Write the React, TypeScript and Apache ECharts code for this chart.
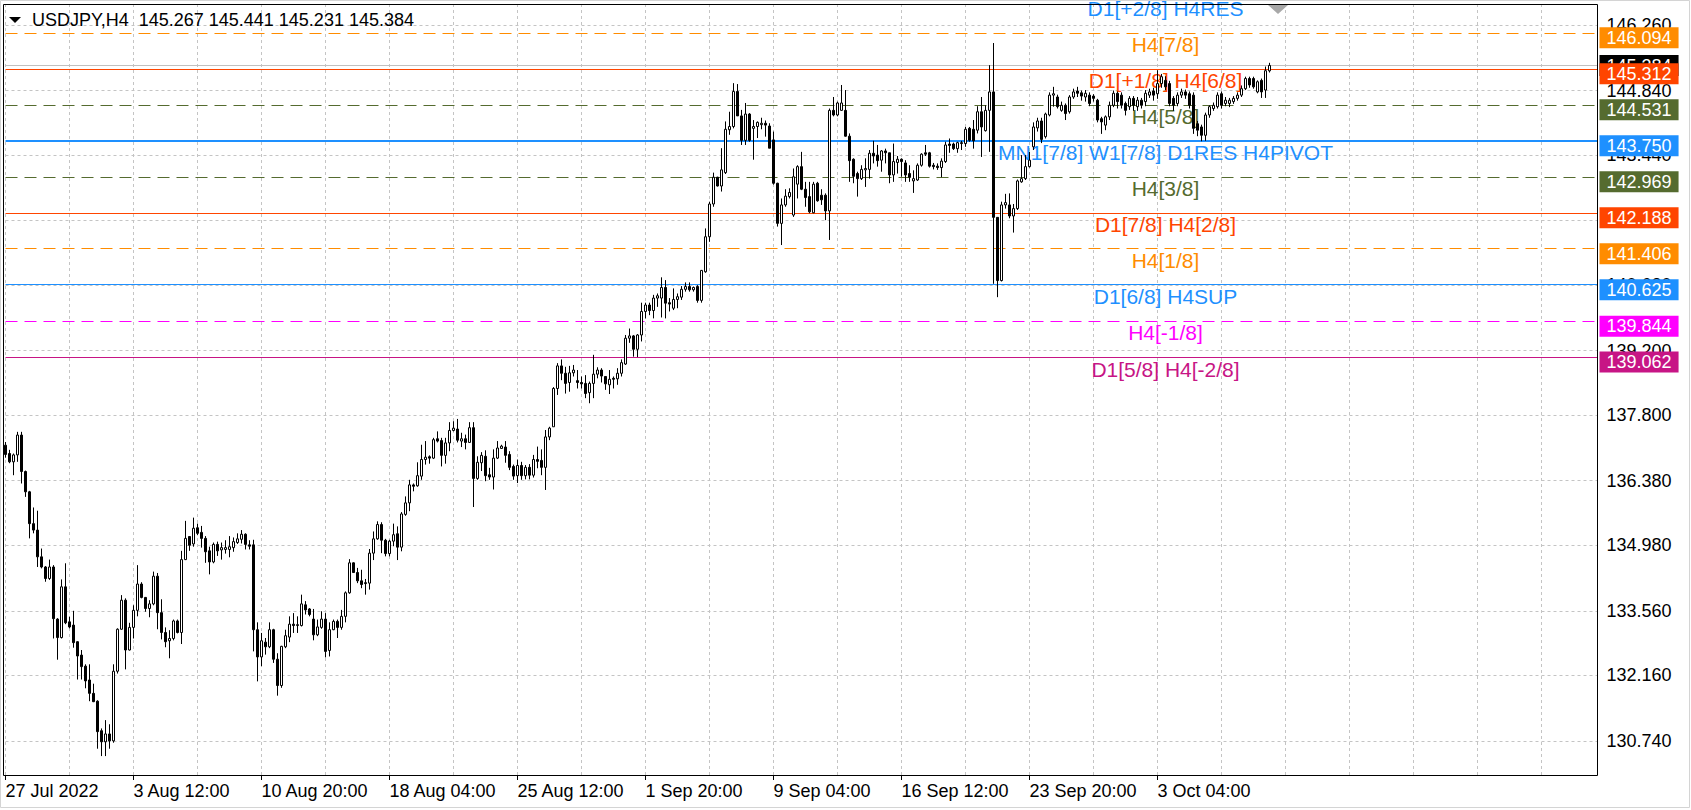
import React, { useEffect, useRef } from "react";
import * as echarts from "echarts";

// ---- data -------------------------------------------------------------
const symbolName = "USDJPY,H4";

// H4 candles: [open, close, low, high]
const candles: number[][] = [
  [137.15, 136.95, 136.88, 137.22], [136.97, 136.79, 136.76, 137.05], [136.79, 136.94, 136.5, 136.97], [136.94, 137.37, 136.79, 137.44],
  [137.37, 136.58, 136.32, 137.44], [136.58, 136.14, 136.03, 136.6], [136.14, 135.45, 135.13, 136.16], [135.45, 135.31, 135.24, 135.8],
  [135.31, 134.73, 134.51, 135.73], [134.73, 134.51, 134.48, 134.91], [134.51, 134.26, 134.19, 134.53], [134.26, 134.51, 134.23, 134.67],
  [134.51, 133.39, 132.96, 134.55], [133.38, 132.98, 132.5, 133.4], [132.98, 134.08, 132.96, 134.24], [134.08, 133.3, 133.27, 134.59],
  [133.32, 133.21, 133.18, 133.43], [133.25, 132.87, 132.76, 133.56], [132.89, 132.58, 132.07, 132.9], [132.6, 132.35, 132.07, 132.71],
  [132.36, 132.04, 131.88, 132.4], [132.06, 131.77, 131.6, 132.4], [131.77, 131.59, 131.58, 131.98], [131.6, 130.94, 130.57, 131.62],
  [130.96, 130.72, 130.41, 131.01], [130.72, 130.89, 130.41, 131.19], [130.89, 130.74, 130.57, 131.1], [130.74, 132.25, 130.7, 132.4],
  [132.25, 133.16, 132.2, 133.18], [133.16, 133.79, 133.15, 133.9], [133.79, 132.71, 132.29, 133.83], [132.71, 133.2, 132.7, 133.3],
  [133.2, 133.57, 132.96, 133.68], [133.57, 134.14, 133.44, 134.55], [134.14, 133.85, 133.83, 134.18], [133.85, 133.61, 133.54, 133.86],
  [133.61, 133.71, 133.42, 133.79], [133.71, 134.31, 133.68, 134.41], [134.31, 133.52, 133.16, 134.38], [133.52, 133.09, 132.94, 133.81],
  [133.09, 132.89, 132.77, 133.2], [132.91, 132.96, 132.53, 133.14], [132.96, 133.34, 132.92, 133.37], [133.34, 133.09, 133.07, 133.37],
  [133.09, 134.67, 132.84, 134.86], [134.67, 135.13, 134.66, 135.51], [135.17, 134.98, 134.86, 135.18], [135.01, 135.35, 134.95, 135.58],
  [135.36, 135.24, 135.2, 135.45], [135.26, 135.13, 134.93, 135.4], [135.13, 134.84, 134.6, 135.18], [134.86, 134.62, 134.35, 134.95],
  [134.62, 135.0, 134.59, 135.04], [135.0, 134.86, 134.75, 135.06], [134.88, 134.93, 134.67, 135.04], [134.89, 134.93, 134.8, 135.09],
  [134.89, 134.95, 134.72, 135.18], [134.93, 135.06, 134.84, 135.15], [135.04, 135.12, 135.01, 135.24], [135.11, 135.22, 135.02, 135.31],
  [135.22, 135.0, 134.89, 135.24], [134.99, 134.96, 134.89, 135.09], [134.99, 133.15, 132.68, 135.1], [133.15, 132.56, 132.03, 133.31],
  [132.56, 132.91, 132.36, 133.08], [132.88, 132.78, 132.61, 132.97], [132.78, 133.15, 132.75, 133.31], [133.15, 132.51, 132.43, 133.17],
  [132.51, 131.94, 131.72, 132.64], [131.94, 132.79, 131.89, 132.8], [132.78, 133.02, 132.75, 133.15], [132.99, 133.27, 132.88, 133.44],
  [133.27, 133.24, 133.08, 133.51], [133.24, 133.26, 133.08, 133.44], [133.24, 133.71, 133.22, 133.91], [133.69, 133.58, 133.48, 133.77],
  [133.6, 133.48, 133.44, 133.62], [133.38, 133.04, 132.92, 133.6], [133.04, 133.21, 133.01, 133.37], [133.2, 133.38, 133.17, 133.55],
  [133.38, 132.68, 132.55, 133.51], [132.7, 133.15, 132.57, 133.31], [133.15, 133.33, 133.14, 133.37], [133.33, 133.2, 132.97, 133.37],
  [133.2, 133.44, 133.15, 133.58], [133.44, 133.95, 133.31, 133.98], [133.95, 134.6, 133.93, 134.68], [134.6, 134.39, 134.38, 134.61],
  [134.39, 134.21, 134.16, 134.49], [134.21, 134.13, 134.05, 134.45], [134.17, 134.15, 133.91, 134.25], [134.16, 134.81, 134.02, 134.9],
  [134.81, 135.12, 134.66, 135.28], [135.12, 135.43, 135.1, 135.5], [135.43, 135.09, 134.81, 135.48], [135.09, 134.8, 134.74, 135.12],
  [134.8, 135.07, 134.74, 135.1], [135.07, 135.21, 134.96, 135.45], [135.23, 134.94, 134.66, 135.39], [134.94, 135.66, 134.85, 135.7],
  [135.65, 135.9, 135.62, 136.04], [135.9, 136.29, 135.72, 136.4], [136.29, 136.26, 136.15, 136.32], [136.27, 136.49, 136.25, 136.78],
  [136.48, 136.84, 136.4, 137.16], [136.84, 136.89, 136.73, 137.24], [136.9, 136.87, 136.75, 136.93], [136.87, 137.27, 136.85, 137.31],
  [137.29, 137.24, 137.21, 137.45], [137.25, 136.93, 136.69, 137.31], [136.93, 137.2, 136.75, 137.31], [137.2, 137.47, 137.02, 137.65],
  [137.47, 137.52, 137.45, 137.67], [137.5, 137.26, 137.21, 137.72], [137.24, 137.29, 137.11, 137.42], [137.29, 137.21, 137.06, 137.38],
  [137.21, 137.53, 137.2, 137.65], [137.53, 136.43, 135.81, 137.65], [136.43, 136.78, 136.4, 136.91], [136.77, 136.93, 136.59, 137.0],
  [136.91, 136.49, 136.37, 137.04], [136.51, 136.46, 136.4, 136.66], [136.46, 136.87, 136.19, 137.06], [136.87, 137.09, 136.85, 137.24],
  [137.08, 137.13, 137.07, 137.16], [137.11, 136.93, 136.77, 137.24], [136.95, 136.67, 136.61, 137.02], [136.69, 136.48, 136.4, 136.73],
  [136.49, 136.71, 136.33, 136.84], [136.71, 136.49, 136.4, 136.79], [136.49, 136.67, 136.41, 136.72], [136.67, 136.5, 136.41, 136.74],
  [136.5, 136.84, 136.45, 136.94], [136.84, 136.8, 136.65, 137.12], [136.82, 136.67, 136.5, 137.06], [136.67, 137.33, 136.18, 137.48],
  [137.33, 137.52, 137.26, 137.55], [137.55, 138.38, 137.55, 138.41], [138.38, 138.87, 138.24, 138.93], [138.87, 138.71, 138.56, 139.01],
  [138.71, 138.49, 138.27, 138.85], [138.51, 138.72, 138.31, 138.87], [138.72, 138.78, 138.64, 138.89], [138.55, 138.51, 138.38, 138.78],
  [138.51, 138.48, 138.38, 138.64], [138.49, 138.27, 138.17, 138.67], [138.29, 138.49, 138.06, 138.53], [138.49, 138.69, 138.17, 139.11],
  [138.69, 138.78, 138.6, 138.84], [138.78, 138.65, 138.51, 138.82], [138.64, 138.48, 138.35, 138.64], [138.46, 138.58, 138.26, 138.78],
  [138.6, 138.58, 138.38, 138.64], [138.59, 138.71, 138.46, 138.82], [138.71, 138.94, 138.64, 139.01], [138.91, 139.47, 138.89, 139.54],
  [139.47, 139.52, 139.37, 139.68], [139.52, 139.23, 139.07, 139.54], [139.23, 139.54, 139.06, 139.56], [139.54, 140.05, 139.4, 140.24],
  [140.05, 140.19, 139.9, 140.24], [140.19, 140.07, 139.97, 140.24], [140.07, 140.34, 139.9, 140.41], [140.34, 140.39, 140.15, 140.44],
  [140.34, 140.57, 139.92, 140.79], [140.57, 140.23, 139.9, 140.73], [140.24, 140.21, 140.05, 140.34], [140.12, 140.31, 140.08, 140.55],
  [140.31, 140.37, 140.12, 140.44], [140.36, 140.53, 140.3, 140.6], [140.53, 140.59, 140.48, 140.68], [140.59, 140.52, 140.48, 140.68],
  [140.52, 140.57, 140.48, 140.59], [140.59, 140.29, 140.24, 140.62], [140.29, 140.94, 140.24, 140.95], [140.91, 141.67, 140.89, 141.85],
  [141.67, 142.38, 141.56, 142.43], [142.38, 142.96, 142.32, 143.06], [142.96, 142.77, 142.76, 142.97], [142.77, 143.12, 142.65, 143.59],
  [143.06, 144.0, 143.03, 144.17], [143.99, 144.06, 143.88, 144.38], [144.06, 144.82, 144.02, 145.0], [144.82, 144.29, 144.29, 144.98],
  [144.29, 143.76, 143.66, 144.42], [143.76, 144.33, 143.66, 144.57], [144.33, 143.76, 143.73, 144.35], [144.02, 144.06, 143.34, 144.2],
  [144.06, 144.15, 143.81, 144.17], [144.1, 144.13, 144.0, 144.25], [144.13, 144.09, 143.84, 144.19], [144.07, 143.59, 143.59, 144.13],
  [143.77, 142.83, 142.8, 143.95], [142.83, 141.96, 141.89, 142.84], [141.96, 142.36, 141.49, 142.5], [142.36, 142.55, 142.32, 142.7],
  [142.54, 142.63, 142.5, 142.72], [142.14, 142.97, 142.1, 143.15], [142.81, 143.19, 142.5, 143.22], [143.19, 142.7, 142.68, 143.51],
  [142.7, 142.52, 142.32, 142.86], [142.54, 142.21, 142.18, 142.86], [142.19, 142.81, 142.18, 142.86], [142.83, 142.45, 142.43, 142.86],
  [142.57, 142.47, 142.36, 142.7], [142.57, 142.23, 142.03, 142.61], [142.23, 144.41, 141.6, 144.45], [144.41, 144.31, 144.28, 144.7],
  [144.31, 144.57, 144.28, 144.6], [144.41, 144.57, 144.4, 144.96], [144.41, 143.85, 143.84, 144.85], [143.85, 143.32, 142.86, 143.91],
  [143.35, 142.98, 142.83, 143.37], [143.04, 142.93, 142.54, 143.08], [142.93, 143.13, 142.9, 143.22], [143.12, 143.15, 142.75, 143.37],
  [143.13, 143.48, 142.93, 143.55], [143.48, 143.42, 143.26, 143.75], [143.44, 143.32, 143.19, 143.66], [143.33, 143.53, 143.08, 143.55],
  [143.53, 143.49, 143.26, 143.58], [143.49, 143.01, 142.83, 143.49], [143.01, 143.3, 142.86, 143.69], [143.28, 143.35, 143.04, 143.42],
  [143.35, 143.3, 142.97, 143.37], [143.27, 143.01, 142.86, 143.33], [143.04, 142.96, 142.86, 143.22], [142.88, 142.93, 142.62, 143.11],
  [142.9, 143.22, 142.88, 143.26], [143.22, 143.46, 143.19, 143.48], [143.49, 143.46, 143.42, 143.66], [143.49, 143.2, 143.17, 143.51],
  [143.22, 143.19, 143.13, 143.27], [143.2, 143.17, 143.12, 143.26], [143.17, 143.31, 142.96, 143.37], [143.3, 143.66, 143.27, 143.73],
  [143.68, 143.65, 143.49, 143.8], [143.68, 143.58, 143.55, 143.71], [143.58, 143.71, 143.49, 143.73], [143.69, 143.71, 143.55, 143.75],
  [143.69, 144.0, 143.62, 144.05], [144.02, 143.76, 143.73, 144.05], [144.0, 143.75, 143.58, 144.2], [143.98, 144.38, 143.91, 144.5],
  [144.38, 144.05, 143.4, 144.7], [143.97, 144.41, 143.95, 144.52], [144.41, 144.81, 143.51, 145.39], [144.81, 142.09, 140.65, 145.87],
  [142.09, 140.72, 140.36, 142.09], [140.72, 142.36, 140.7, 142.43], [142.36, 142.41, 142.28, 142.6], [142.36, 142.12, 142.07, 142.61],
  [142.12, 142.28, 141.76, 142.38], [142.28, 142.88, 142.25, 142.91], [142.86, 142.93, 142.84, 143.44], [142.93, 143.19, 142.9, 143.44],
  [143.19, 143.33, 143.17, 143.51], [143.62, 144.05, 143.55, 144.15], [144.03, 144.18, 143.95, 144.25], [144.18, 143.78, 143.7, 144.25],
  [143.84, 144.33, 143.8, 144.36], [144.31, 144.74, 144.28, 144.8], [144.74, 144.77, 144.49, 144.92], [144.7, 144.49, 144.45, 144.75],
  [144.41, 144.52, 144.38, 144.6], [144.52, 144.34, 144.2, 144.56], [144.38, 144.7, 144.34, 144.74], [144.7, 144.81, 144.66, 144.88],
  [144.83, 144.78, 144.7, 144.92], [144.79, 144.72, 144.62, 144.84], [144.7, 144.78, 144.6, 144.85], [144.74, 144.56, 144.5, 144.8],
  [144.72, 144.67, 144.6, 144.76], [144.63, 144.2, 144.15, 144.66], [144.23, 144.16, 143.9, 144.27], [144.09, 144.27, 143.98, 144.3],
  [144.27, 144.52, 144.2, 144.6], [144.52, 144.78, 144.48, 144.84], [144.78, 144.6, 144.45, 144.82], [144.74, 144.52, 144.45, 144.8],
  [144.56, 144.41, 144.3, 144.6], [144.49, 144.67, 144.42, 144.72], [144.67, 144.52, 144.4, 144.72], [144.49, 144.63, 144.4, 144.7],
  [144.63, 144.52, 144.45, 144.68], [144.6, 144.78, 144.5, 144.85], [144.74, 144.81, 144.68, 144.88], [144.83, 144.74, 144.62, 144.9],
  [144.77, 144.99, 144.66, 145.28], [144.99, 145.14, 144.9, 145.2], [145.06, 144.92, 144.85, 145.15], [144.99, 144.56, 144.5, 145.05],
  [144.67, 144.52, 144.4, 144.72], [144.56, 144.74, 144.5, 144.8], [144.74, 144.81, 144.68, 144.88], [144.81, 144.74, 144.66, 144.86],
  [144.77, 144.52, 144.45, 144.82], [144.74, 144.02, 143.9, 144.8], [144.12, 143.98, 143.85, 144.18], [144.05, 143.87, 143.74, 144.1],
  [143.87, 144.31, 143.75, 144.36], [144.31, 144.49, 144.25, 144.52], [144.45, 144.52, 144.4, 144.58], [144.49, 144.74, 144.45, 144.8],
  [144.77, 144.52, 144.45, 144.82], [144.56, 144.63, 144.5, 144.7], [144.56, 144.63, 144.48, 144.68], [144.6, 144.67, 144.55, 144.72],
  [144.67, 144.74, 144.62, 144.8], [144.74, 144.88, 144.7, 144.95], [144.88, 145.1, 144.85, 145.14], [145.1, 144.96, 144.9, 145.14],
  [145.1, 144.92, 144.88, 145.14], [144.81, 145.03, 144.78, 145.06], [145.06, 144.81, 144.68, 145.1], [144.85, 145.27, 144.68, 145.36],
  [145.267, 145.384, 145.231, 145.441],
];

const xTickLabels = [
  "27 Jul 2022", "3 Aug 12:00", "10 Aug 20:00", "18 Aug 04:00", "25 Aug 12:00",
  "1 Sep 20:00", "9 Sep 04:00", "16 Sep 12:00", "23 Sep 20:00", "3 Oct 04:00",
];
const barsPerLabel = 32;
const barsPerGridLine = 16;
const slotCount = 399; // bars plus empty space on the right (chart shift)

const yTickValues = [146.26, 144.84, 143.44, 142.02, 140.62, 139.2, 137.8, 136.38, 134.98, 133.56, 132.16, 130.74];

const levelValues = [146.875, 146.094, 145.312, 144.531, 143.75, 142.969, 142.188, 141.406, 140.625, 139.844, 139.062];
const levelNames = [
  "D1[+2/8] H4RES", "H4[7/8]", "D1[+1/8] H4[6/8]", "H4[5/8]", "MN1[7/8] W1[7/8] D1RES H4PIVOT",
  "H4[3/8]", "D1[7/8] H4[2/8]", "H4[1/8]", "D1[6/8] H4SUP", "H4[-1/8]", "D1[5/8] H4[-2/8]",
];
const levelColors = [
  "#1E90FF", "#FF8C00", "#FF4500", "#556B2F", "#1E90FF",
  "#556B2F", "#FF4500", "#FF8C00", "#1E90FF", "#FF00FF", "#C71585",
];
const levelDashed = [false, true, false, true, false, true, false, true, false, true, false];
const levelWidths = [1, 1, 1, 1, 2, 1, 1, 1, 1, 1, 1];
const levelLabelBar = 290;

const Y_MIN = 130.0;
const Y_MAX = 146.716;
const FONT = "'Liberation Sans', Arial, sans-serif";
const LEVEL_FONT_SIZE = 21;

export default function App() {
  const ref = useRef<HTMLDivElement>(null);

  useEffect(() => {
    if (!ref.current) return;
    const chart = echarts.init(ref.current, null, { renderer: "svg" });
    const categories = Array.from({ length: slotCount }, (_, i) => String(i));
    const last = candles[candles.length - 1];
    const isLabelIdx = (i: number) => i % barsPerLabel === 0 && i / barsPerLabel < xTickLabels.length;
    const inRange = (v: number) => v >= Y_MIN && v <= Y_MAX;

    const baseGraphic: any[] = [
      { type: "rect", z: 100, silent: true, shape: { x: 0.5, y: 0.5, width: 1689, height: 807 }, style: { fill: "none", stroke: "#D4D4D4", lineWidth: 1 } },
      { type: "rect", z: 100, silent: true, shape: { x: 3.5, y: 4.5, width: 1594, height: 771 }, style: { fill: "none", stroke: "#000", lineWidth: 1 } },
      { type: "polygon", z: 100, silent: true, shape: { points: [[9, 17], [21, 17], [15, 23]] }, style: { fill: "#000" } },
      { type: "polygon", z: 100, silent: true, shape: { points: [[1268, 5], [1288, 5], [1278, 14]] }, style: { fill: "#A8A8A8" } },
      {
        type: "text",
        z: 100,
        silent: true,
        x: 32,
        y: 20,
        style: {
          text: `${symbolName}  ${last[0].toFixed(3)} ${last[3].toFixed(3)} ${last[2].toFixed(3)} ${last[1].toFixed(3)}`,
          font: `18px ${FONT}`,
          fill: "#000",
          verticalAlign: "middle",
          align: "left",
        },
      },
    ];

    const option: any = {
      animation: false,
      backgroundColor: "#ffffff",
      textStyle: { fontFamily: FONT },
      grid: { left: 5.5, top: 4, width: 1592, height: 771, show: false, containLabel: false },
      xAxis: {
        type: "category",
        data: categories,
        boundaryGap: false,
        axisLine: { show: false },
        axisTick: { show: true, length: 5, interval: isLabelIdx, lineStyle: { color: "#000", width: 1 } },
        axisLabel: {
          show: true,
          interval: isLabelIdx,
          formatter: (_v: string, i: number) => xTickLabels[i / barsPerLabel] ?? "",
          align: "left",
          margin: 7,
          fontSize: 18,
          color: "#000",
          fontFamily: FONT,
        },
        splitLine: {
          show: true,
          interval: (i: number) => i % barsPerGridLine === 0,
          lineStyle: { color: "#C4C4C4", type: [3, 3], width: 1 },
        },
      },
      yAxis: {
        type: "value",
        position: "right",
        min: Y_MIN,
        max: Y_MAX,
        axisLine: { show: false },
        axisTick: { show: false },
        axisLabel: { show: false },
        splitLine: { show: false },
      },
      graphic: baseGraphic,
      series: [
        {
          type: "line",
          data: [],
          z: 1,
          silent: true,
          markLine: {
            silent: true,
            animation: false,
            symbol: ["none", "none"],
            data: yTickValues.map((v) => ({ yAxis: v })),
            lineStyle: { color: "#C4C4C4", type: [3, 3], width: 1 },
            label: {
              show: true,
              position: "end",
              distance: 9,
              formatter: (p: any) => Number(p.value).toFixed(3),
              color: "#000",
              fontSize: 18,
              fontFamily: FONT,
            },
          },
        },
        {
          type: "line",
          data: [],
          z: 2,
          silent: true,
          markLine: {
            silent: true,
            animation: false,
            symbol: ["none", "none"],
            data: [{ yAxis: last[1] }],
            lineStyle: { color: "#C0C0C0", type: "solid", width: 1 },
            label: {
              show: true,
              position: "end",
              distance: 2,
              formatter: last[1].toFixed(3),
              color: "#fff",
              backgroundColor: "#000",
              padding: [1, 7, 1, 7],
              lineHeight: 19,
              fontSize: 18,
              fontFamily: FONT,
            },
          },
        },
        {
          type: "line",
          data: [],
          z: 3,
          silent: true,
          markLine: {
            silent: true,
            animation: false,
            symbol: ["none", "none"],
            data: levelValues
              .map((v, k) =>
                inRange(v)
                  ? {
                      yAxis: v,
                      lineStyle: {
                        color: levelColors[k],
                        width: levelWidths[k],
                        type: levelDashed[k] ? [12, 7] : "solid",
                      },
                      label: {
                        show: true,
                        position: "end",
                        distance: 2,
                        formatter: v.toFixed(3),
                        color: "#fff",
                        backgroundColor: levelColors[k],
                        padding: [1, 7, 1, 7],
                        lineHeight: 19,
                        fontSize: 18,
                        fontFamily: FONT,
                        offset: [0, 5],
                      },
                    }
                  : null
              )
              .filter(Boolean),
          },
          markPoint: {
            silent: true,
            animation: false,
            data: levelValues
              .map((v, k) =>
                inRange(v)
                  ? {
                      coord: [levelLabelBar, v],
                      symbol: "circle",
                      symbolSize: 0,
                      label: {
                        show: true,
                        position: "inside",
                        offset: [0, 12],
                        formatter: levelNames[k],
                        color: levelColors[k],
                        fontSize: LEVEL_FONT_SIZE,
                        fontFamily: FONT,
                      },
                    }
                  : null
              )
              .filter(Boolean),
          },
        },
        {
          type: "candlestick",
          data: candles,
          z: 5,
          barWidth: 2,
          clip: false,
          silent: true,
          itemStyle: {
            color: "#ffffff",
            color0: "#000000",
            borderColor: "#000000",
            borderColor0: "#000000",
            borderWidth: 1,
          },
        },
      ],
    };

    chart.setOption(option);

    // Level labels whose line lies above the visible price range: place them through the axis scales.
    const extra: any[] = [];
    levelValues.forEach((v, k) => {
      if (inRange(v)) return;
      const pt = chart.convertToPixel({ xAxisIndex: 0, yAxisIndex: 0 }, [levelLabelBar, v]) as number[];
      if (!pt) return;
      extra.push({
        type: "text",
        z: 4,
        silent: true,
        x: pt[0],
        y: pt[1] + 12,
        style: {
          text: levelNames[k],
          font: `${LEVEL_FONT_SIZE}px ${FONT}`,
          fill: levelColors[k],
          align: "center",
          verticalAlign: "middle",
        },
      });
    });
    if (extra.length) {
      chart.setOption({ graphic: [...baseGraphic, ...extra] });
    }

    return () => chart.dispose();
  }, []);

  return <div ref={ref} style={{ position: "fixed", left: 0, top: 0, width: 1691, height: 810 }} />;
}
